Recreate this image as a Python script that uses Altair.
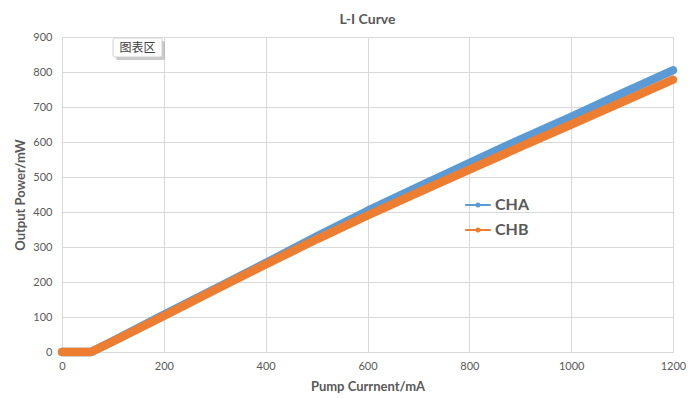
import altair as alt
import pandas as pd

current_cha = [0, 20, 40, 57, 100, 200, 300, 400, 500, 600, 700, 800, 900, 1000, 1100, 1200]
power_cha = [0, 0, 0, 0, 31, 106, 180, 254, 330, 403, 472, 540, 607, 672, 739, 805]
current_chb = [0, 20, 40, 57, 100, 200, 300, 400, 500, 600, 700, 800, 900, 1000, 1100, 1200]
power_chb = [0, 0, 0, 0, 30, 103, 177, 250, 322, 390, 456, 521, 586, 650, 714, 778]
series_names = ["CHA", "CHB"]
series_colors = ["#5b9bd5", "#ed7d31"]
x_ticks = [0, 200, 400, 600, 800, 1000, 1200]
y_ticks = [0, 100, 200, 300, 400, 500, 600, 700, 800, 900]

df = pd.concat([
    pd.DataFrame({"current": current_cha, "power": power_cha, "series": "CHA", "order": 0}),
    pd.DataFrame({"current": current_chb, "power": power_chb, "series": "CHB", "order": 1}),
])

FONT = "Lato"
GRAY = "#595959"

r = 0.19
legend_path = (f"M-1.6,0L1.6,0M-{r},0a{r},{r} 0 1,0 {2*r},0a{r},{r} 0 1,0 -{2*r},0")

lines = alt.Chart(df).mark_line(strokeWidth=8.5, strokeCap="round", strokeJoin="round").encode(
    x=alt.X("current:Q", scale=alt.Scale(domain=[0, 1200], nice=False),
            axis=alt.Axis(values=x_ticks, title="Pump Currnent/mA", grid=True, format="d",
                          gridColor="#d9d9d9", domain=False, ticks=False, labelFlush=False,
                          labelColor=GRAY, labelFontSize=11, labelPadding=8,
                          labelFont=FONT, titleFont=FONT, titleFontSize=13,
                          titleFontWeight="bold", titleColor=GRAY, titlePadding=9)),
    y=alt.Y("power:Q", scale=alt.Scale(domain=[0, 900], nice=False),
            axis=alt.Axis(values=y_ticks, title="Output Power/mW", grid=True, format="d",
                          gridColor="#d9d9d9", domain=False, ticks=False, labelFlush=False,
                          labelColor=GRAY, labelFontSize=11, labelPadding=10,
                          labelFont=FONT, titleFont=FONT, titleFontSize=13,
                          titleFontWeight="bold", titleColor=GRAY, titlePadding=5)),
    color=alt.Color("series:N", scale=alt.Scale(domain=series_names, range=series_colors),
                    legend=alt.Legend(title=None, orient="none", legendX=407, legendY=159,
                                      symbolType=legend_path, symbolSize=256,
                                      symbolStrokeWidth=2, labelFontSize=16,
                                      labelFontWeight="bold", labelColor=GRAY,
                                      labelFont=FONT, rowPadding=8, labelOffset=8)),
    order=alt.Order("order:Q"),
    detail="series:N",
)

shadow = alt.Chart(pd.DataFrame({"a": [0]})).mark_rect(fill="#a6a6a6", opacity=0.6, cornerRadius=2).encode(
    x=alt.value(54), x2=alt.value(103), y=alt.value(4), y2=alt.value(23))
box = alt.Chart(pd.DataFrame({"a": [0]})).mark_rect(fill="white", stroke="#d0d0d0", cornerRadius=2).encode(
    x=alt.value(51), x2=alt.value(100), y=alt.value(1), y2=alt.value(20))
box_text = alt.Chart(pd.DataFrame({"t": ["图表区"]})).mark_text(
    font="Noto Sans CJK SC", fontSize=12, color="#404040", align="center", baseline="middle").encode(
    x=alt.value(75.5), y=alt.value(10.5), text="t:N")

chart = alt.layer(lines, shadow, box, box_text).properties(
    width=611, height=315,
    title=alt.TitleParams("L-I Curve", font=FONT, fontSize=14, fontWeight="bold",
                          color=GRAY, anchor="middle", offset=4),
    padding={"left": 54, "top": 29, "right": 13, "bottom": 44},
    autosize=alt.AutoSizeParams(type="none"),
).configure_view(stroke=None).configure(background="white")

chart.save("out.html", embed_options={"renderer": "svg", "actions": False})
